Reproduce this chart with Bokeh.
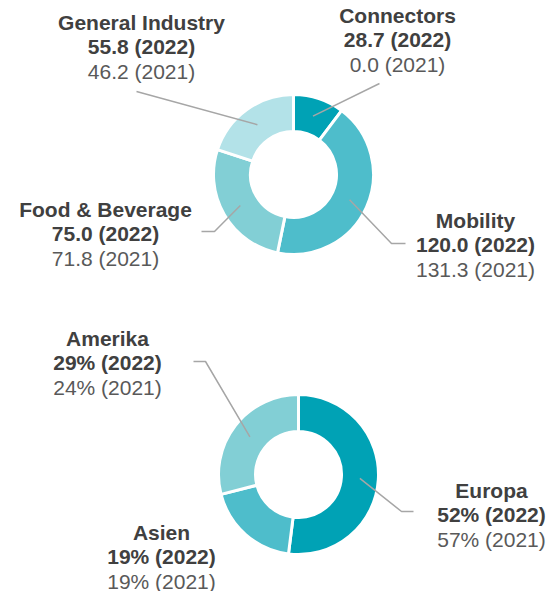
import math
from bokeh.plotting import figure
from bokeh.models import Range1d, ColumnDataSource
from bokeh.core.properties import value
from bokeh.embed import file_html
from bokeh.resources import INLINE

# ---- data ----
segments = ["Connectors", "Mobility", "Food & Beverage", "General Industry"]
sales_2022 = [28.7, 120.0, 75.0, 55.8]
sales_2021 = [0.0, 131.3, 71.8, 46.2]

regions = ["Europa", "Asien", "Amerika"]
share_2022 = [52, 19, 29]
share_2021 = [57, 19, 24]

seg_colors = ["#00a2b5", "#4ebdcb", "#82cfd5", "#b3e2e8"]
reg_colors = ["#00a2b5", "#4ebdcb", "#82cfd5"]

W, H = 548, 591
FONT = "Liberation Sans"


def px(x):
    return x


def py(y):
    return H - y


p = figure(width=W, height=H, output_backend="svg", toolbar_location=None,
           x_range=Range1d(0, W), y_range=Range1d(0, H),
           x_axis_type=None, y_axis_type=None, min_border=0)
p.grid.visible = False
p.outline_line_color = None
p.background_fill_color = "white"
p.border_fill_color = "white"

R_OUT, R_IN = 80, 43


def donut(cx, cy, values, colors):
    total = float(sum(values))
    starts, ends, mids = [], [], []
    acc = 0.0
    for v in values:
        t1 = acc / total * 2 * math.pi
        acc += v
        t2 = acc / total * 2 * math.pi
        starts.append(math.pi / 2 - t2)
        ends.append(math.pi / 2 - t1)
        mids.append((t1 + t2) / 2)
    src = ColumnDataSource(dict(x=[cx] * len(values), y=[cy] * len(values),
                                s=starts, e=ends, c=colors))
    p.annular_wedge(x="x", y="y", inner_radius=R_IN, outer_radius=R_OUT,
                    start_angle="s", end_angle="e", direction="anticlock",
                    fill_color="c", line_color="white", line_width=3, source=src)
    rm = (R_IN + R_OUT) / 2
    return [(cx + rm * math.sin(m), cy + rm * math.cos(m)) for m in mids]


def leader(start, path):
    xs = [start[0]] + [px(a) for a, b in path]
    ys = [start[1]] + [py(b) for a, b in path]
    p.line(xs, ys, line_color="#a6a6a6", line_width=1.5)


def label(cx, base_y, title, l2, l3):
    p.text(x=[px(cx)], y=[py(base_y)], text=[title], text_font=value(FONT),
           text_font_style="bold", text_font_size="21px", text_color="#404040",
           text_align="center", text_baseline="alphabetic")
    p.text(x=[px(cx)], y=[py(base_y + 24.5)], text=[l2], text_font=value(FONT),
           text_font_style="bold", text_font_size="21px", text_color="#404040",
           text_align="center", text_baseline="alphabetic")
    p.text(x=[px(cx)], y=[py(base_y + 49)], text=[l3], text_font=value(FONT),
           text_font_size="21px", text_color="#595959",
           text_align="center", text_baseline="alphabetic")


# top donut
top_pts = donut(px(293), py(174), sales_2022, seg_colors)
leader(top_pts[0], [(379, 83)])
leader(top_pts[1], [(391, 243), (405, 243)])
leader(top_pts[2], [(214, 231), (201, 231)])
leader(top_pts[3], [(136, 91)])

# bottom donut
bot_pts = donut(px(298), py(474), share_2022, reg_colors)
leader(bot_pts[0], [(401, 511), (413, 511)])
leader(bot_pts[2], [(205, 361), (193, 361)])

top_label_pos = [(397, 14.5), (475, 219.5), (105, 208.5), (141, 21.5)]
for name, v22, v21, (lx, ly) in zip(segments, sales_2022, sales_2021, top_label_pos):
    label(lx, ly, name, f"{v22:.1f} (2022)", f"{v21:.1f} (2021)")

bot_label_pos = [(491, 489.5), (161, 531.5), (107, 337.5)]
for name, v22, v21, (lx, ly) in zip(regions, share_2022, share_2021, bot_label_pos):
    label(lx, ly, name, f"{v22}% (2022)", f"{v21}% (2021)")

open("out.html", "w").write(file_html(p, INLINE))
